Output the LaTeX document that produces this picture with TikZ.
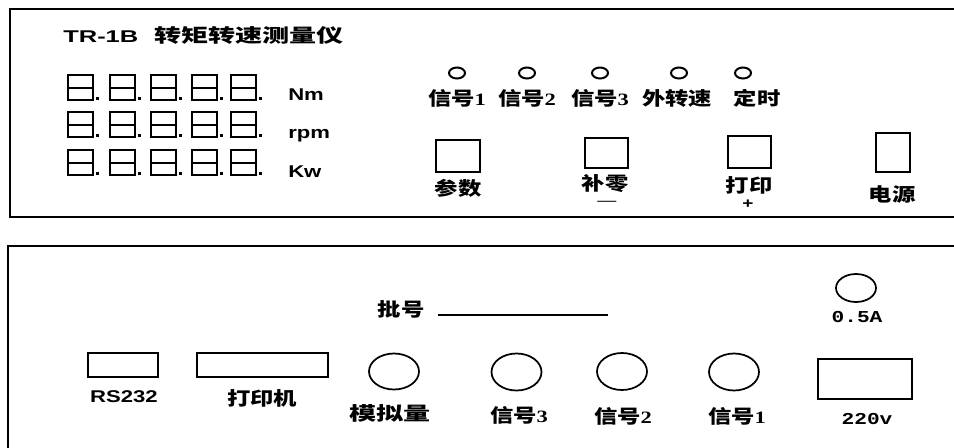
\documentclass[tikz,border=0pt]{standalone}
\usepackage{fontspec}
\setmainfont{Liberation Serif}
\newfontfamily\cjkfont{Noto Sans CJK SC}[FakeStretch=1.25]
\newfontfamily\cjktitle{Noto Sans CJK SC}[FakeStretch=1.45]
\newfontfamily\sansfont{Liberation Sans}[FakeStretch=1.3]
\newfontfamily\sanstitle{Liberation Sans}[FakeStretch=1.5]
\newfontfamily\monofont{Liberation Mono}[FakeStretch=1.27]
\newfontfamily\digitfont{Liberation Serif}[FakeStretch=1.3]
\newcommand\xinhao[1]{{\cjkfont\bfseries 信号}{\digitfont\bfseries\fontsize{13}{15}\selectfont #1}}

\begin{document}
\begin{tikzpicture}[
		x=0.75pt,y=-0.75pt,
		every node/.append style={inner sep=0pt},
		panel/.style={line width=1.5pt},
		part/.style={line width=1.5pt},
		jack/.style={line width=1.3pt},
		cjk/.style={font=\cjkfont\bfseries\fontsize{14}{16}\selectfont},
		unit/.style={anchor=base west,font=\sansfont\bfseries\fontsize{12.75}{15}\selectfont},
		mono/.style={anchor=base,font=\monofont\bfseries\fontsize{12.5}{14}\selectfont},
	]
	\useasboundingbox (0,0) rectangle (954,447);
	% front panel
	\draw[panel] (10,9) rectangle (975,217);
	\node[anchor=base west] (title) at (63,42) {{\sanstitle\bfseries\fontsize{12.75}{15}\selectfont TR-1B}\hspace{12pt}{\cjktitle\bfseries\fontsize{14}{16}\selectfont 转矩转速测量仪}};
	% seven segment display rows
	\foreach \row in {75,112,150}
	\foreach \dx in {68,110,151,192,231} {
			\draw[part] (\dx,\row) rectangle ++(25,25);
			\draw[part] (\dx,\row+12.5) -- ++(25,0);
			\fill (\dx+28,\row+22) rectangle ++(3,3);
		}
	\node[unit] (nm) at (288,100) {Nm};
	\node[unit] (rpm) at (288,138) {rpm};
	\node[unit] (kw) at (288,177) {Kw};
	% indicator lamps
	\foreach \lx/\tx/\name/\txt in {457/457/sa/\xinhao{1},527/527/sb/\xinhao{2},600/600/sc/\xinhao{3},679/677/wz/外转速,743/757/ds/定时} {
			\draw[part] (\lx,73) ellipse [x radius=8,y radius=5.5];
			\node[cjk] (\name) at (\tx,98.5) {\txt};
		}
	% keys
	\draw[part] (436,140) rectangle (480,172);
	\node[cjk] (canshu) at (458,188.5) {参数};
	\draw[part] (585,138) rectangle (628,168);
	\node[cjk] (buling) at (605,183.5) {补零};
	\node[font=\sansfont\fontsize{11}{12}\selectfont] (minus) at (607,203) {—};
	\draw[part] (728,136) rectangle (771,168);
	\node[cjk] (dayin) at (749,185) {打印};
	\node[font=\sansfont\bfseries\fontsize{11}{12}\selectfont] (plus) at (748,204.5) {+};
	\draw[part] (876,133) rectangle (910,172);
	\node[cjk] (dianyuan) at (892,194.5) {电源};
	% rear panel
	\draw[panel] (8,246) rectangle (975,470);
	\node[cjk] (pihao) at (401,309) {批号};
	\draw[part] (pihao.east) ++(13,6) coordinate (pa) -- (608,315);
	\draw[jack] (856,288) ellipse [x radius=20,y radius=14];
	\node[mono] (fuse) at (857,322) {0.5A};
	\draw[part] (88,353) rectangle (158,377);
	\node[unit,anchor=base] (rs) at (124,402) {RS232};
	\draw[part] (197,353) rectangle (328,377);
	\node[cjk] (dayinji) at (262,398.5) {打印机};
	\draw[jack] (394,371.5) ellipse [x radius=25,y radius=18];
	\node[cjk,font=\cjktitle\bfseries\fontsize{14}{16}\selectfont] (moni) at (390,413.5) {模拟量};
	\draw[jack] (516.5,372) ellipse [x radius=25,y radius=18.5];
	\node[cjk] (inc) at (519,415) {\xinhao{3}};
	\draw[jack] (622,371.5) ellipse [x radius=25,y radius=18.5];
	\node[cjk] (inb) at (623,416.5) {\xinhao{2}};
	\draw[jack] (734,372) ellipse [x radius=25,y radius=18.5];
	\node[cjk] (ina) at (737,416) {\xinhao{1}};
	\draw[part] (818,359) rectangle (912,399);
	\node[mono] (power) at (867,424) {220v};
\end{tikzpicture}
\end{document}
